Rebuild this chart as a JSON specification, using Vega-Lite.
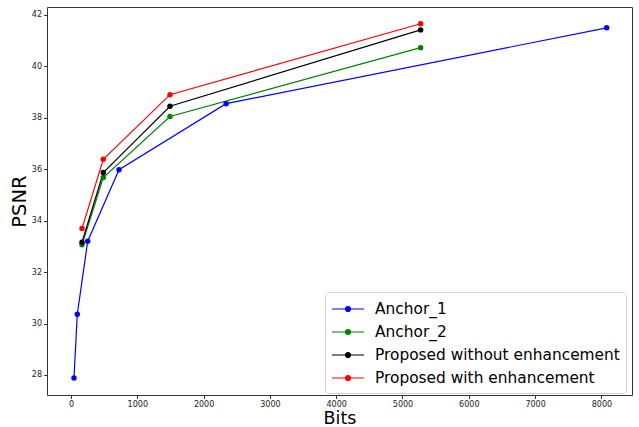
{
  "$schema": "https://vega.github.io/schema/vega-lite/v6.json",
  "autosize": {"type": "none"},
  "padding": {"left": 47, "top": 7, "right": 7, "bottom": 32},
  "width": 585,
  "height": 388,
  "background": "white",
  "config": {
    "font": "DejaVu Sans",
    "view": {"stroke": "#333333", "strokeWidth": 1},
    "axis": {"grid": false, "domain": false, "tickColor": "#333333", "tickSize": 3.5, "labelFontSize": 8, "labelColor": "#222222", "titleFont": "DejaVu Sans", "titleFontWeight": "normal", "titleFontSize": 19.5, "titleColor": "#000000", "labelPadding": 2}
  },
  "data": {"values": [
    {"series": "Anchor_1", "bits": 45, "psnr": 27.88},
    {"series": "Anchor_1", "bits": 95, "psnr": 30.36},
    {"series": "Anchor_1", "bits": 252, "psnr": 33.2},
    {"series": "Anchor_1", "bits": 724, "psnr": 35.98},
    {"series": "Anchor_1", "bits": 2340, "psnr": 38.55},
    {"series": "Anchor_1", "bits": 8080, "psnr": 41.5},
    {"series": "Anchor_2", "bits": 166, "psnr": 33.06},
    {"series": "Anchor_2", "bits": 487, "psnr": 35.68},
    {"series": "Anchor_2", "bits": 1493, "psnr": 38.05},
    {"series": "Anchor_2", "bits": 5274, "psnr": 40.73},
    {"series": "Proposed without enhancement", "bits": 166, "psnr": 33.16},
    {"series": "Proposed without enhancement", "bits": 487, "psnr": 35.87},
    {"series": "Proposed without enhancement", "bits": 1493, "psnr": 38.45},
    {"series": "Proposed without enhancement", "bits": 5274, "psnr": 41.42},
    {"series": "Proposed with enhancement", "bits": 166, "psnr": 33.7},
    {"series": "Proposed with enhancement", "bits": 487, "psnr": 36.39},
    {"series": "Proposed with enhancement", "bits": 1493, "psnr": 38.9},
    {"series": "Proposed with enhancement", "bits": 5274, "psnr": 41.66}
  ]},
  "mark": {"type": "line", "strokeWidth": 1.2, "point": {"filled": true, "size": 30}},
  "encoding": {
    "x": {"field": "bits", "type": "quantitative", "title": "Bits",
      "scale": {"domain": [-362, 8462], "nice": false, "zero": false},
      "axis": {"values": [0, 1000, 2000, 3000, 4000, 5000, 6000, 7000, 8000], "format": "d", "titleY": 14.5, "titleBaseline": "top", "titleFontSize": 17.5}},
    "y": {"field": "psnr", "type": "quantitative", "title": "PSNR",
      "scale": {"domain": [27.22, 42.31], "nice": false, "zero": false},
      "axis": {"values": [28, 30, 32, 34, 36, 38, 40, 42], "titleX": -18}},
    "color": {"field": "series", "type": "nominal", "title": null,
      "scale": {"domain": ["Anchor_1", "Anchor_2", "Proposed without enhancement", "Proposed with enhancement"], "range": ["#0000ff", "#008000", "#000000", "#ff0000"]},
      "legend": {"orient": "none", "legendX": 278, "legendY": 285, "labelFontSize": 15.4, "labelFont": "DejaVu Sans", "labelColor": "#000000", "fillColor": "white", "strokeColor": "#d5d5d5", "cornerRadius": 3, "padding": 6, "rowPadding": 3, "symbolOffset": 6, "symbolType": "M-1.6,0L1.6,0M-0.25,0A0.25,0.25 0 1,1 0.25,0A0.25,0.25 0 1,1 -0.25,0Z", "symbolSize": 400, "symbolStrokeWidth": 1.2, "labelOffset": 16, "labelLimit": 400}}
  }
}
